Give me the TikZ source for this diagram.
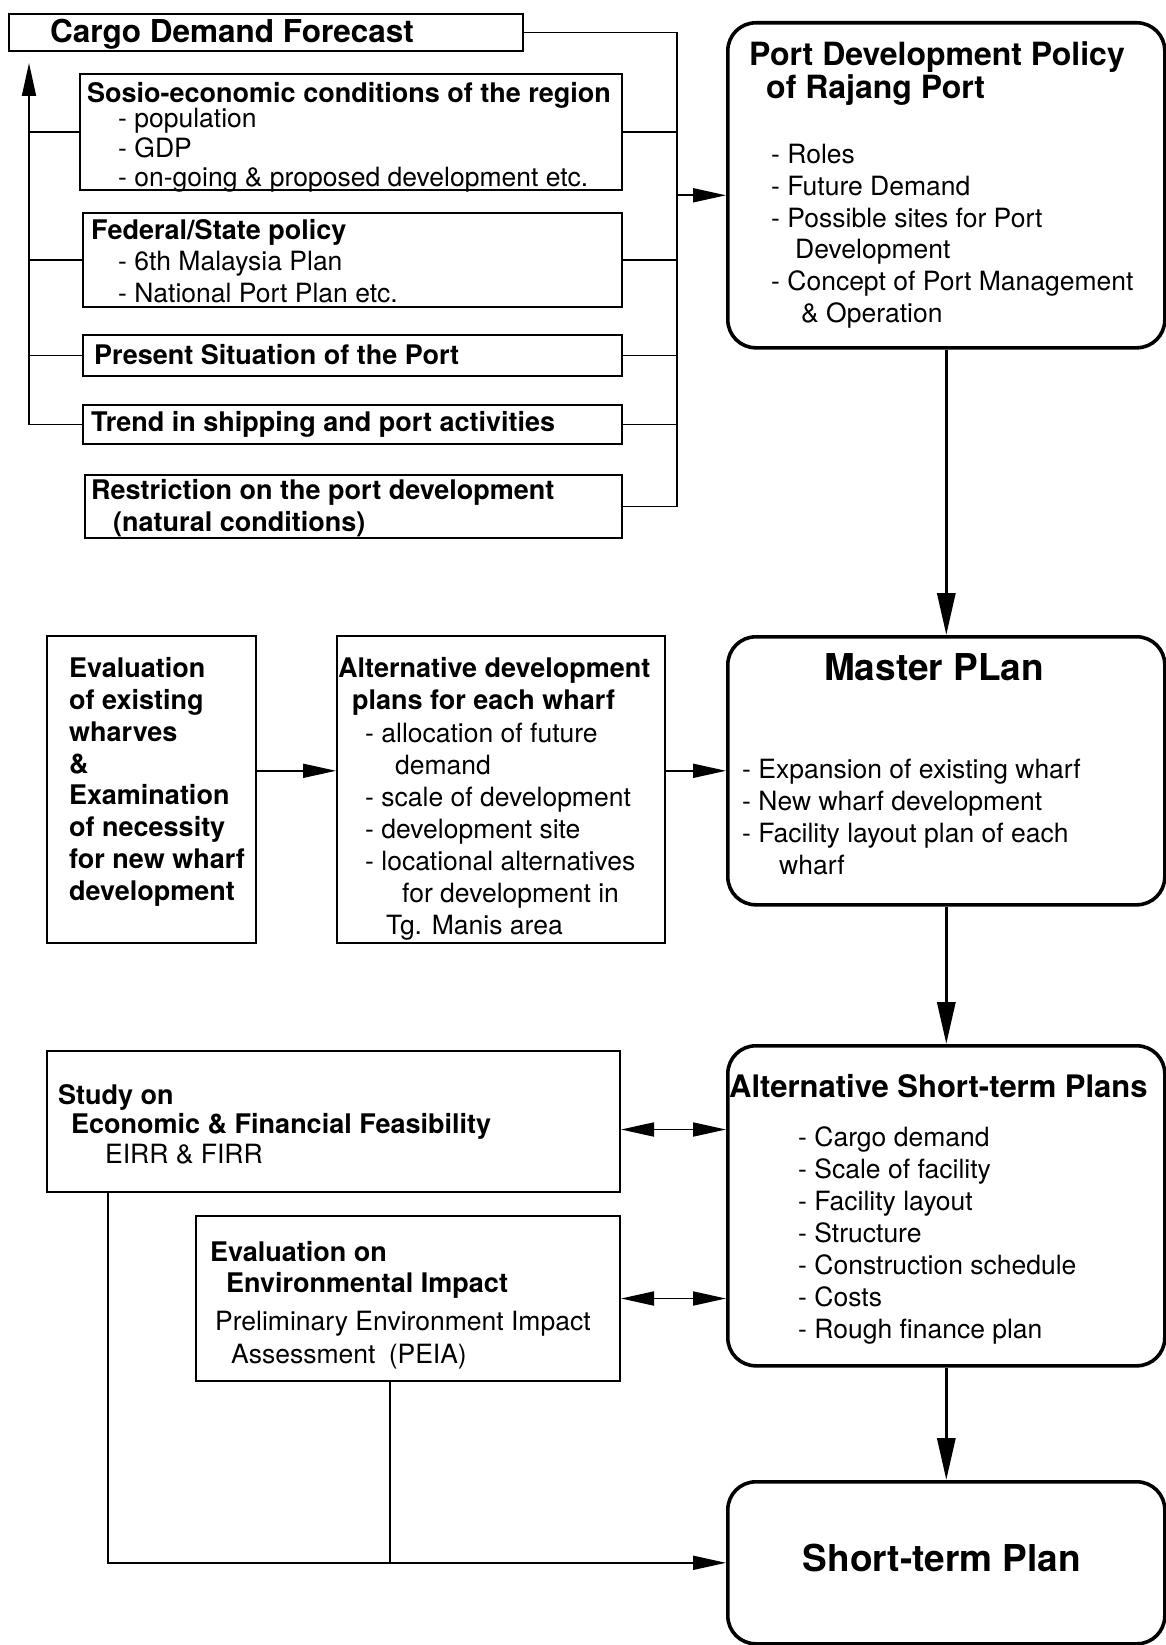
\documentclass[tikz,border=0pt]{standalone}
\usepackage{fontspec}
\setmainfont{TeX Gyre Heros}
\usetikzlibrary{arrows.meta}
\newcommand{\bodyfont}[1]{\fontsize{26.5}{#1}\selectfont}
\newcommand{\headfont}[1]{\fontsize{27}{#1}\selectfont\bfseries}
\newcommand{\hugefont}{\fontsize{37}{40}\selectfont\bfseries}

\begin{document}
\begin{tikzpicture}[x=1pt,y=-1pt,
	box/.style={draw,line width=2pt,anchor=north west,inner sep=0pt},
	rbox/.style={draw,line width=3.6pt,rounded corners=28pt,anchor=north west,inner sep=0pt},
	txt/.style={anchor=north west,inner sep=0pt,align=left},
	wire/.style={line width=1.8pt},
	arr/.style={line width=1.8pt,-{Triangle[length=33pt,width=14pt]}},
	dbl/.style={line width=1.8pt,{Triangle[length=33pt,width=14pt]}-{Triangle[length=33pt,width=14pt]}},
	big/.style={line width=3.3pt,-{Triangle[length=42pt,width=18pt]}}]
	\useasboundingbox (0,0) rectangle (1165,1645);
	%INPUT BOXES
	\node[box,minimum width=514pt,minimum height=37pt] (cargo) at (8,13) {};
	\node[txt,font=\fontsize{31.5}{33}\selectfont\bfseries] (cargoT) at (50,19) {Cargo Demand Forecast};
	\node[box,minimum width=542pt,minimum height=116pt] (socio) at (79,73) {};
	\node[txt,font=\headfont{29}] (socioT) at (87,82) {Sosio-economic conditions of the region};
	\node[txt,font=\bodyfont{29.5}] (socioL) at (118,108) {- population\\- GDP\\- on-going \& proposed development etc.};
	\node[box,minimum width=539pt,minimum height=94pt] (federal) at (82,212) {};
	\node[txt,font=\headfont{32}] (federalT) at (91,219) {Federal/State policy};
	\node[txt,font=\bodyfont{32}] (federalL) at (118,251) {- 6th Malaysia Plan\\- National Port Plan etc.};
	\node[box,minimum width=539pt,minimum height=41pt] (present) at (82,334) {};
	\node[txt,font=\headfont{32}] (presentT) at (94,344) {Present Situation of the Port};
	\node[box,minimum width=539pt,minimum height=39pt] (trend) at (82,404) {};
	\node[txt,font=\headfont{32}] (trendT) at (91,411) {Trend in shipping and port activities};
	\node[box,minimum width=537pt,minimum height=63pt] (restrict) at (84,474) {};
	\node[txt,font=\headfont{32}] (restrictT) at (91,479) {Restriction on the port development\\\hspace*{22pt}(natural conditions)};
	%POLICY
	\node[rbox,minimum width=437pt,minimum height=325pt] (policy) at (726,21) {};
	\node[txt,font=\fontsize{32}{33}\selectfont\bfseries] (policyT) at (749,41) {Port Development Policy\\\hspace*{17pt}of Rajang Port};
	\node[txt,font=\bodyfont{31.8}] (policyL) at (771,144) {- Roles\\- Future Demand\\- Possible sites for Port\\\hspace*{24pt}Development\\- Concept of Port Management\\\hspace*{30pt}\& Operation};
	%MASTER PLAN ROW
	\node[box,minimum width=209pt,minimum height=307pt] (evalwharf) at (46,635) {};
	\node[txt,font=\headfont{31.9}] (evalwharfT) at (69,657) {Evaluation\\of existing\\wharves\\\&\\Examination\\of necessity\\for new wharf\\development};
	\node[box,minimum width=328pt,minimum height=307pt] (altdev) at (336,635) {};
	\node[txt,font=\headfont{32}] (altdevT) at (338,657) {Alternative development\\\hspace*{14pt}plans for each wharf};
	\node[txt,font=\bodyfont{32}] (altdevL) at (365,723) {- allocation of future\\\hspace*{30pt}demand\\- scale of development\\- development site\\- locational alternatives\\\hspace*{37pt}for development in\\\hspace*{21pt}Tg. Manis area};
	\node[rbox,minimum width=437pt,minimum height=268pt] (master) at (726,635) {};
	\node[font=\hugefont,inner sep=0pt] (masterT) at (934,667) {Master PLan};
	\node[txt,font=\bodyfont{32}] (masterL) at (742,759) {- Expansion of existing wharf\\- New wharf development\\- Facility layout plan of each\\\hspace*{37pt}wharf};
	%SHORT-TERM
	\node[rbox,minimum width=437pt,minimum height=320pt] (altshort) at (726,1044) {};
	\node[txt,font=\fontsize{31}{33}\selectfont\bfseries] (altshortT) at (729,1074) {Alternative Short-term Plans};
	\node[txt,font=\bodyfont{32}] (altshortL) at (798,1126) {- Cargo demand\\- Scale of facility\\- Facility layout\\- Structure\\- Construction schedule\\- Costs\\- Rough finance plan};
	\node[rbox,minimum width=437pt,minimum height=162pt] (short) at (726,1480) {};
	\node[font=\hugefont,inner sep=0pt] (shortT) at (942,1558) {Short-term Plan};
	\node[box,minimum width=573pt,minimum height=141pt] (study) at (46,1050) {};
	\node[txt,font=\headfont{29}] (studyT) at (58,1084) {Study on\\\hspace*{13pt}Economic \& Financial Feasibility};
	\node[txt,font=\bodyfont{32}] (studyL) at (105,1144) {EIRR \& FIRR};
	\node[box,minimum width=424pt,minimum height=165pt] (envir) at (195,1215) {};
	\node[txt,font=\headfont{31}] (envirT) at (210,1241) {Evaluation on\\\hspace*{16pt}Environmental Impact};
	\node[txt,font=\bodyfont{33}] (envirL) at (215,1311) {Preliminary Environment Impact\\\hspace*{16pt}Assessment\enspace(PEIA)};
	%CONNECTORS
	\coordinate (ltip) at (29,63);
	\coordinate (rbus) at (677,31);
	\draw[arr] (trend.west) -| (ltip);
	\foreach \b in {socio,federal,present} \draw[wire] (\b.west) -- (\b.west -| ltip);
	\draw[wire] (cargo.east) -- (cargo.east -| rbus) |- (restrict.east);
	\foreach \b in {socio,federal,present,trend} \draw[wire] (\b.east) -- (\b.east -| rbus);
	\draw[arr] ([yshift=-10pt]policy.west -| rbus) -- ([yshift=-10pt]policy.west);
	\draw[big] (policy.south) -- (master.north);
	\draw[big] (master.south) -- (altshort.north);
	\draw[big] (altshort.south) -- (short.north);
	\draw[arr] (evalwharf.east |- master.west) -- (altdev.west |- master.west);
	\draw[arr] (altdev.east |- master.west) -- (master.west);
	\draw[dbl] ([yshift=-8pt]study.east) -- ([yshift=-8pt]study.east -| altshort.west);
	\draw[dbl] (envir.east) -- (envir.east -| altshort.west);
	\draw[arr] ([xshift=62pt]study.south west) |- (short.west);
	\draw[wire] ([xshift=195pt]envir.south west) -- ([xshift=195pt]envir.south west |- short.west);
\end{tikzpicture}
\end{document}
